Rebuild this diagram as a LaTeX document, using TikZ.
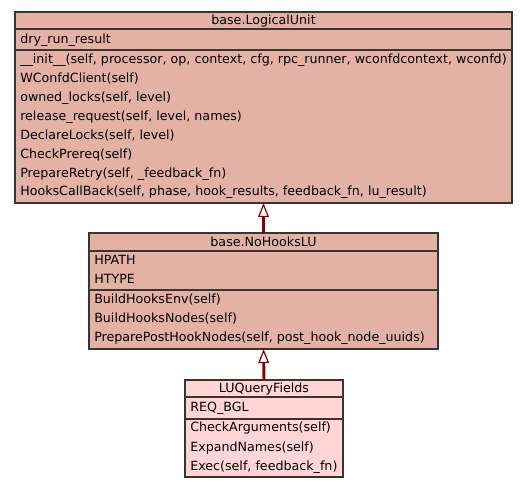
\documentclass[tikz,border=0pt]{standalone}
\usepackage{fontspec}
\setmainfont{DejaVu Sans}
\usetikzlibrary{arrows.meta}
\definecolor{boxfill}{HTML}{E3B2A5}
\definecolor{lightfill}{HTML}{FFD5D5}
\definecolor{border}{HTML}{3A3330}
\definecolor{arr}{HTML}{8B0000}
\tikzset{
  cls/.style={draw=border, line width=1.1pt, anchor=north west, inner sep=0pt, outer sep=0pt},
  sep/.style={draw=border, line width=1.1pt},
  lbl/.style={anchor=west, inner sep=0pt, font=\fontsize{9.5}{11}\selectfont, text height=0.75em, text depth=0.25em},
  ttl/.style={anchor=center, inner sep=0pt, font=\fontsize{9.5}{11}\selectfont, text height=0.75em, text depth=0.25em},
  inh/.style={draw=arr, line width=2.2pt, -{Triangle[open, fill=white, line width=0.9pt, length=10.5pt, width=8pt]}}
}
\begin{document}
\begin{tikzpicture}[x=0.75pt, y=-0.75pt]
\useasboundingbox (0,0) rectangle (528,488);
% box 1
\node[cls, fill=boxfill, minimum width=372.75pt, minimum height=143.25pt] (b1) at (15,12) {};
\draw[sep] (15,29) -- (512,29);
\draw[sep] (15,50) -- (512,50);
\node[ttl] (b1t) at (263.5,21.5) {base.LogicalUnit};
\node[lbl] (b1a1) at (20,40) {dry\_run\_result};
\node[lbl] (b1m1) at (20,60) {\_\_init\_\_(self, processor, op, context, cfg, rpc\_runner, wconfdcontext, wconfd)};
\node[lbl] (b1m2) at (20,79) {WConfdClient(self)};
\node[lbl] (b1m3) at (20,98) {owned\_locks(self, level)};
\node[lbl] (b1m4) at (20,117) {release\_request(self, level, names)};
\node[lbl] (b1m5) at (20,136) {DeclareLocks(self, level)};
\node[lbl] (b1m6) at (20,155) {CheckPrereq(self)};
\node[lbl] (b1m7) at (20,174) {PrepareRetry(self, \_feedback\_fn)};
\node[lbl] (b1m8) at (20,192) {HooksCallBack(self, phase, hook\_results, feedback\_fn, lu\_result)};
% box 2
\node[cls, fill=boxfill, minimum width=261.75pt, minimum height=87pt] (b2) at (89,233) {};
\draw[sep] (89,251) -- (438,251);
\draw[sep] (89,290) -- (438,290);
\node[ttl] (b2t) at (263.5,243) {base.NoHooksLU};
\node[lbl] (b2a1) at (94,261) {HPATH};
\node[lbl] (b2a2) at (94,280) {HTYPE};
\node[lbl] (b2m1) at (94,300) {BuildHooksEnv(self)};
\node[lbl] (b2m2) at (94,319) {BuildHooksNodes(self)};
\node[lbl] (b2m3) at (94,338) {PreparePostHookNodes(self, post\_hook\_node\_uuids)};
% box 3
\node[cls, fill=lightfill, minimum width=118.5pt, minimum height=72.75pt] (b3) at (185,380) {};
\draw[sep] (185,397) -- (343,397);
\draw[sep] (185,419) -- (343,419);
\node[ttl] (b3t) at (264,389) {LUQueryFields};
\node[lbl] (b3a1) at (190,408) {REQ\_BGL};
\node[lbl] (b3m1) at (190,428) {CheckArguments(self)};
\node[lbl] (b3m2) at (190,448) {ExpandNames(self)};
\node[lbl] (b3m3) at (190,467) {Exec(self, feedback\_fn)};
% inheritance
\draw[inh] (b2.north) -- (b1.south);
\draw[inh] (b3.north) -- (b2.south);
\end{tikzpicture}
\end{document}
